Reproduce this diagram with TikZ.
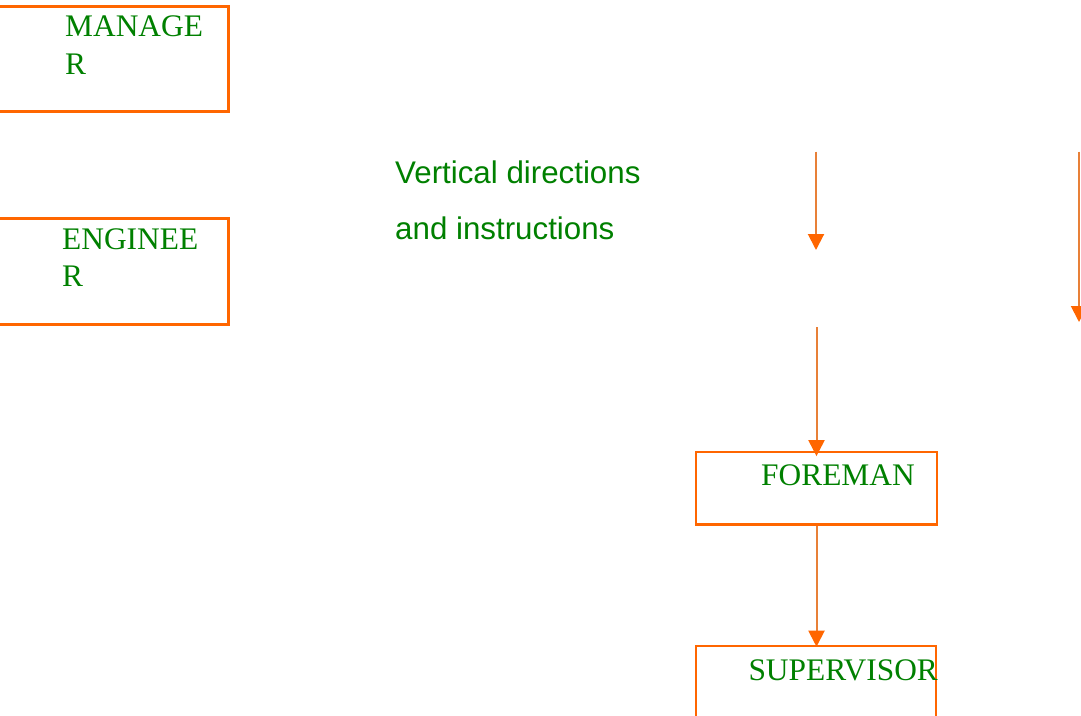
\documentclass[tikz,border=0pt]{standalone}
\usepackage{fontspec}
\setmainfont{Liberation Serif}
\setsansfont{Liberation Sans}
\usetikzlibrary{arrows.meta}
\definecolor{boxorange}{RGB}{255,102,0}
\definecolor{linkorange}{RGB}{232,128,56}
\definecolor{rankgreen}{RGB}{0,128,0}

\begin{document}
\begin{tikzpicture}[x=1pt,y=-1pt]
                        \tikzstyle{rank}=[draw=boxorange, line width=3pt, inner sep=0pt]
                        \tikzstyle{lowrank}=[rank, line width=2.2pt]
                        \tikzstyle{ranktext}=[text=rankgreen, anchor=base west, inner sep=0pt, align=left,
                            font=\fontsize{31.4}{37.5}\selectfont]
                        \tikzstyle{order}=[draw=linkorange, line width=2pt,
                            -{Triangle[width=16pt,length=16pt,color=boxorange]}]
                        \useasboundingbox (0,0) rectangle (1081,715);
                        % boxes on the left
                        \node[rank, minimum width=238.8pt, minimum height=104.8pt] (manager) at (109.4,58.9) {};
                        \node[ranktext] (managertext) at (65,74.2) {MANAGE\\R};
                        \node[rank, minimum width=238.8pt, minimum height=105.5pt] (engineer) at (109.4,271.5) {};
                        \node[ranktext] (engineertext) at (62,286.5) {ENGINEE\\R};
                        % note
                        \node[text=rankgreen, anchor=base west, inner sep=0pt, align=left,
                            font=\sffamily\fontsize{31.3}{56}\selectfont] (note) at (395,239) {Vertical directions\\and instructions};
                        % boxes on the right
                        \node[lowrank, minimum width=240.7pt, minimum height=72.3pt] (foreman) at (816.5,488.4) {};
                        \node[ranktext] (foremantext) at (761,485) {FOREMAN};
                        \node[lowrank, minimum width=239.5pt, minimum height=110pt] (supervisor) at (816.1,700.8) {};
                        \node[ranktext] (supervisortext) at (748.3,680) {SUPERVISOR};
                        % arrows
                        \coordinate (downA) at (816,151.7);
                        \coordinate (downAend) at (816,250);
                        \coordinate (downB) at (1079,151.7);
                        \coordinate (downBend) at (1079,322);
                        \coordinate (downC) at (816.5,327);
                        \draw[order] (downA) -- (downAend);
                        \draw[order] (downB) -- (downBend);
                        \draw[order] (downC) -- ([yshift=-5pt]foreman.north);
                        \draw[order] (foreman.south) -- ([yshift=-2pt]foreman.south |- supervisor.north);
                    \end{tikzpicture}
\end{document}
